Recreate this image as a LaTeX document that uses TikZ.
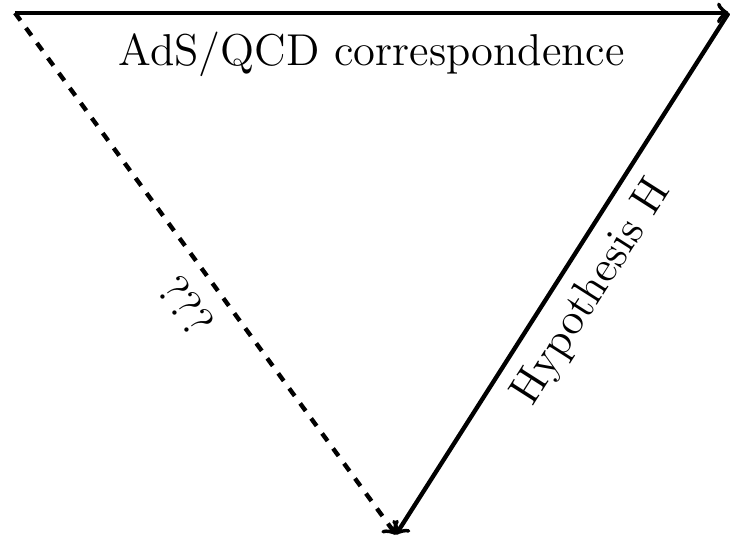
\documentclass[tikz,border=0pt]{standalone}
\usepackage{amsmath,amssymb}
\usepackage{tikz}
\usetikzlibrary{arrows,calc,positioning}

\tikzset{
	leg/.style = {->, line width = 1.4pt},
	legtext/.style = {font = \Large}
}

\begin{document}
\begin{tikzpicture}
	\useasboundingbox (0,0) rectangle (8.278,6.112);
	
	\coordinate (ads) at (0.17, 5.965);
	\coordinate (qcd) at (8.262, 5.965);
	\coordinate (hyp) at (4.49, 0.05);
	
	\draw[leg] (ads) -- (qcd) node[midway, below = 2pt, legtext]{AdS/QCD correspondence};
	
	\draw[leg] (qcd) -- (hyp) node[midway, below = 1pt, sloped, legtext]{Hypothesis H};
	
	\draw[leg, dashed] (ads) -- (hyp) node[pos = 0.523, below = 2pt, sloped, legtext]{???};
	
\end{tikzpicture}
\end{document}
